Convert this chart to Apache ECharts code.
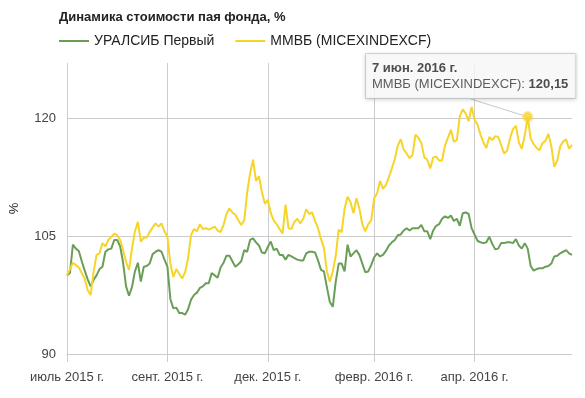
<!DOCTYPE html>
<html>
<head>
<meta charset="utf-8">
<script src="https://cdn.jsdelivr.net/npm/echarts@6/dist/echarts.min.js"></script>
<style>
  html, body { margin: 0; padding: 0; background: #fff; }
  #chart { width: 585px; height: 398px; }
</style>
</head>
<body>
<div id="chart"></div>
<script>
// values, one point per step along the axis
const fundValues = [
  100.0, 100.3, 103.9, 103.4, 103.1, 101.8, 100.6, 99.5, 98.6, 99.4,
  100.0, 100.8, 101.1, 103.0, 103.3, 103.4, 104.5, 104.5, 103.7, 101.6,
  98.6, 97.4, 98.5, 100.5, 101.6, 99.2, 101.1, 101.2, 101.5, 102.7,
  103.0, 103.2, 103.0, 102.0, 101.1, 97.0, 95.8, 95.9, 95.2, 95.2,
  95.0, 95.7, 96.9, 97.5, 97.8, 98.4, 98.6, 99.0, 99.0, 100.3,
  100.0, 99.7, 101.0, 101.6, 102.5, 102.5, 101.8, 101.1, 101.4, 101.8,
  103.2, 103.0, 104.5, 104.7, 104.2, 103.8, 102.9, 102.8, 103.6, 104.3,
  103.2, 103.4, 102.6, 102.6, 102.0, 102.6, 102.4, 102.2, 102.0, 101.9,
  101.9, 102.8, 103.0, 103.0, 102.9, 101.9, 100.7, 100.5, 98.5, 96.6,
  96.0, 99.2, 101.5, 101.5, 100.5, 103.9, 102.4, 102.8, 103.2, 102.6,
  101.5, 100.4, 100.5, 101.3, 102.3, 102.8, 102.4, 102.6, 103.1, 103.8,
  104.2, 104.5, 105.1, 105.2, 105.7, 106.0, 105.7, 106.0, 106.0, 106.0,
  106.4, 105.6, 105.6, 104.6, 105.7, 106.3, 106.5, 107.2, 107.5, 107.3,
  107.6, 106.9, 107.2, 106.3, 107.9, 108.0, 107.8, 106.0, 105.2, 104.4,
  104.2, 104.1, 104.2, 104.9, 104.0, 103.3, 103.4, 104.1, 104.1, 104.2,
  104.2, 104.1, 104.6, 103.8, 103.4, 104.1, 103.4, 101.2, 100.6, 100.8,
  100.9, 100.9, 101.1, 101.2, 101.5, 102.4, 102.5, 102.8, 103.0, 103.2,
  102.8, 102.6
];

const indexValues = [
  100.0, 100.8, 101.6, 101.3, 101.0, 100.3, 99.6, 98.1, 97.5, 100.4,
  102.6, 102.8, 104.1, 103.7, 104.5, 104.9, 105.3, 105.1, 104.5, 103.2,
  101.7, 100.7, 103.4, 105.6, 106.8, 104.3, 104.8, 104.8, 105.5, 106.1,
  106.6, 106.2, 106.6, 105.6, 104.9, 101.5, 99.8, 100.8, 100.2, 99.6,
  100.4, 102.2, 105.1, 105.9, 105.6, 106.5, 105.9, 106.0, 105.8, 106.0,
  106.2, 105.7, 105.5, 106.4, 107.8, 108.5, 108.0, 107.7, 107.0, 106.4,
  107.0, 110.5, 113.0, 114.7, 112.0, 112.6, 110.6, 109.1, 109.6, 107.9,
  107.0, 106.5, 105.9, 105.3, 109.0, 106.0, 105.9, 106.8, 107.2, 106.6,
  107.2, 108.4, 107.8, 108.0, 106.9, 106.0, 104.6, 103.5, 100.5, 99.2,
  100.5, 102.5, 105.8, 105.5, 108.5, 110.0, 109.3, 107.9, 109.8, 108.5,
  106.5, 105.6, 106.5, 107.0, 109.8, 110.4, 112.0, 111.0, 111.5, 112.5,
  113.6, 114.8, 116.5, 117.3, 116.0, 115.5, 114.9, 115.3, 117.9, 117.5,
  116.8, 115.0, 114.7, 113.6, 115.0, 115.1, 114.6, 114.6, 116.5, 117.5,
  118.5, 117.0, 117.2, 120.2, 121.1, 120.6, 119.6, 121.4, 119.8, 119.2,
  117.9, 116.9, 116.2, 117.6, 117.2, 117.7, 117.6, 116.6, 115.5, 115.8,
  117.4, 118.6, 119.0, 116.9, 116.1, 117.8, 120.15, 117.4, 116.7, 116.2,
  115.9, 116.8, 117.1, 118.0, 116.4, 113.8, 114.6, 116.4, 117.0, 117.3,
  116.1, 116.6
];

const tickIndex = [0, 34, 68, 104, 138];
const tickLabels = ['июль 2015 г.', 'сент. 2015 г.', 'дек. 2015 г.', 'февр. 2016 г.', 'апр. 2016 г.'];

const fundName = 'УРАЛСИБ Первый';
const indexName = 'ММВБ (MICEXINDEXCF)';
const tipIndex = 156;
const tipDate = '7 июн. 2016 г.';
const tipValue = '120,15';

const categories = indexValues.map((v, i) => i);
const isTick = (i) => tickIndex.indexOf(i) !== -1;

const font = 'Arial, "Liberation Sans", sans-serif';
const gridColor = '#cccccc';

const chart = echarts.init(document.getElementById('chart'));

const option = {
  animation: false,
  textStyle: { fontFamily: font },
  title: {
    text: 'Динамика стоимости пая фонда, %',
    left: 59,
    top: 11,
    padding: 0,
    textStyle: { fontSize: 13, fontWeight: 'bold', color: '#222', fontFamily: font }
  },
  legend: {
    left: 59,
    top: 34,
    padding: 0,
    icon: 'rect',
    itemWidth: 30,
    itemHeight: 2,
    itemGap: 21,
    data: [fundName, indexName],
    textStyle: { fontSize: 14, color: '#222', fontFamily: font }
  },
  grid: { left: 59.5, right: 13, top: 63, bottom: 44 },
  xAxis: {
    type: 'category',
    data: categories,
    boundaryGap: false,
    axisLine: { show: true, lineStyle: { color: gridColor } },
    axisTick: { show: true, length: 8, interval: isTick, lineStyle: { color: gridColor } },
    splitLine: { show: true, interval: isTick, lineStyle: { color: gridColor } },
    axisLabel: {
      interval: isTick,
      margin: 17,
      fontSize: 13,
      color: '#444',
      fontFamily: font,
      formatter: (v, i) => tickLabels[tickIndex.indexOf(i)] || ''
    }
  },
  yAxis: {
    type: 'value',
    min: 90,
    max: 127,
    interval: 15,
    name: '%',
    nameLocation: 'middle',
    nameGap: 46,
    nameRotate: 90,
    nameTextStyle: { fontSize: 13, color: '#222', fontFamily: font },
    axisLine: { show: false },
    axisTick: { show: false },
    axisLabel: { showMaxLabel: false, margin: 11, fontSize: 13, color: '#444', fontFamily: font },
    splitLine: { lineStyle: { color: [gridColor, gridColor, gridColor, 'rgba(0,0,0,0)'] } }
  },
  series: [
    {
      name: fundName,
      type: 'line',
      data: fundValues,
      showSymbol: false,
      color: '#6a9e58',
      lineStyle: { width: 2, color: '#6a9e58' },
      emphasis: { disabled: true }
    },
    {
      name: indexName,
      type: 'line',
      data: indexValues,
      showSymbol: false,
      color: '#f6d42a',
      lineStyle: { width: 2, color: '#f6d42a' },
      emphasis: { disabled: true }
    },
    {
      name: 'tip',
      type: 'scatter',
      z: 5,
      symbolSize: 9,
      data: [[tipIndex, indexValues[tipIndex]]],
      itemStyle: { color: '#f6d42a', borderColor: 'rgba(246,212,42,0.45)', borderWidth: 3 },
      emphasis: { disabled: true },
      label: {
        show: true,
        formatter: '{d|' + tipDate + '}\n{n|' + indexName + ': }{b|' + tipValue + '}',
        backgroundColor: '#fff',
        borderColor: '#cfcfcf',
        borderWidth: 1,
        shadowColor: 'rgba(0,0,0,0.18)',
        shadowBlur: 4,
        shadowOffsetY: 1,
        padding: [6, 7, 6, 6],
        rich: {
          d: { fontSize: 13, fontWeight: 'bold', color: '#222', lineHeight: 16, fontFamily: font },
          n: { fontSize: 13, color: '#333', lineHeight: 16, fontFamily: font },
          b: { fontSize: 13, fontWeight: 'bold', color: '#222', lineHeight: 16, fontFamily: font }
        }
      },
      labelLayout: { x: 366, y: 54, align: 'left', verticalAlign: 'top' },
      labelLine: { show: true, lineStyle: { color: '#c8c8c8', width: 1 } }
    }
  ]
};

chart.setOption(option);
</script>
</body>
</html>
